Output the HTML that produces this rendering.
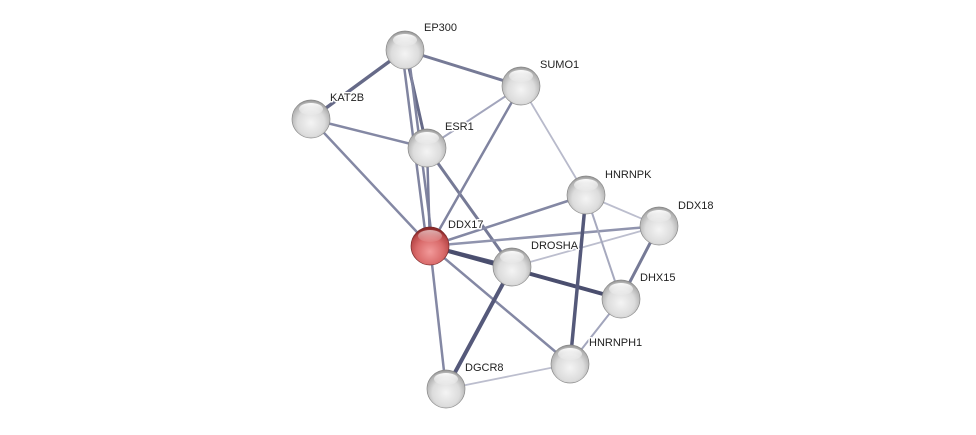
<!DOCTYPE html>
<html><head><meta charset="utf-8"><style>
html,body{margin:0;padding:0;background:#fff;}
svg{display:block;}
text{font-family:"Liberation Sans",Arial,sans-serif;font-size:11px;fill:#222;paint-order:stroke;stroke:#fff;stroke-width:3px;stroke-linejoin:round;}
</style></head><body>
<svg width="976" height="435" viewBox="0 0 976 435" xmlns="http://www.w3.org/2000/svg">
<defs>
<radialGradient id="g" cx="50%" cy="60%" r="60%">
<stop offset="0" stop-color="#f4f4f4"/><stop offset="0.6" stop-color="#dcdcdc"/><stop offset="0.9" stop-color="#b0b0b0"/><stop offset="1" stop-color="#8e8e8e"/>
</radialGradient>
<radialGradient id="r" cx="50%" cy="65%" r="60%">
<stop offset="0" stop-color="#f29a9a"/><stop offset="0.6" stop-color="#d96a6a"/><stop offset="0.9" stop-color="#b84848"/><stop offset="1" stop-color="#8c2a2a"/>
</radialGradient>
<linearGradient id="hl" x1="0" y1="0" x2="0" y2="1">
<stop offset="0" stop-color="#fff" stop-opacity="0.95"/><stop offset="1" stop-color="#fff" stop-opacity="0.1"/>
</linearGradient>
</defs>
<g stroke-linecap="round">
<line x1="405" y1="50" x2="311" y2="119" stroke="#666a88" stroke-width="3.5"/>
<line x1="405" y1="50" x2="521" y2="86" stroke="#767a96" stroke-width="3"/>
<line x1="405" y1="50" x2="427" y2="148" stroke="#666a88" stroke-width="3"/>
<line x1="402" y1="50" x2="427" y2="246" stroke="#8084a0" stroke-width="2.5"/>
<line x1="408" y1="50" x2="433" y2="246" stroke="#8084a0" stroke-width="2.5"/>
<line x1="311" y1="119" x2="427" y2="148" stroke="#8488a4" stroke-width="2.5"/>
<line x1="311" y1="119" x2="430" y2="246" stroke="#8488a4" stroke-width="2.5"/>
<line x1="427" y1="148" x2="521" y2="86" stroke="#a2a5bc" stroke-width="2"/>
<line x1="427" y1="148" x2="430" y2="246" stroke="#7a7e9c" stroke-width="2.5"/>
<line x1="427" y1="148" x2="512" y2="267" stroke="#767a96" stroke-width="3"/>
<line x1="521" y1="86" x2="430" y2="246" stroke="#8084a0" stroke-width="2.5"/>
<line x1="521" y1="86" x2="586" y2="195" stroke="#b8bacb" stroke-width="1.8"/>
<line x1="430" y1="246" x2="586" y2="195" stroke="#8488a4" stroke-width="2.5"/>
<line x1="430" y1="246" x2="659" y2="226" stroke="#9094ae" stroke-width="2.5"/>
<line x1="430" y1="246" x2="512" y2="267" stroke="#55597a" stroke-width="3.5"/>
<line x1="430" y1="246" x2="621" y2="299" stroke="#4a4e6e" stroke-width="4"/>
<line x1="430" y1="246" x2="570" y2="364" stroke="#8488a4" stroke-width="2.5"/>
<line x1="430" y1="246" x2="446" y2="389" stroke="#8488a4" stroke-width="2.5"/>
<line x1="512" y1="267" x2="659" y2="226" stroke="#bcbece" stroke-width="1.8"/>
<line x1="512" y1="267" x2="446" y2="389" stroke="#55597a" stroke-width="4"/>
<line x1="586" y1="195" x2="659" y2="226" stroke="#bcbece" stroke-width="1.8"/>
<line x1="586" y1="195" x2="621" y2="299" stroke="#a6a9be" stroke-width="2"/>
<line x1="586" y1="195" x2="570" y2="364" stroke="#55597a" stroke-width="3.5"/>
<line x1="659" y1="226" x2="621" y2="299" stroke="#767a96" stroke-width="3"/>
<line x1="621" y1="299" x2="570" y2="364" stroke="#a2a5bc" stroke-width="2"/>
<line x1="570" y1="364" x2="446" y2="389" stroke="#bcbece" stroke-width="1.8"/>
</g>
<g stroke="#8a8a8a" stroke-width="0.7">
<g id="n"></g>
<circle cx="405" cy="50" r="19" fill="url(#g)"/>
<circle cx="521" cy="86" r="19" fill="url(#g)"/>
<circle cx="311" cy="119" r="19" fill="url(#g)"/>
<circle cx="427" cy="148" r="19" fill="url(#g)"/>
<circle cx="586" cy="195" r="19" fill="url(#g)"/>
<circle cx="659" cy="226" r="19" fill="url(#g)"/>
<circle cx="512" cy="267" r="19" fill="url(#g)"/>
<circle cx="621" cy="299" r="19" fill="url(#g)"/>
<circle cx="570" cy="364" r="19" fill="url(#g)"/>
<circle cx="446" cy="389" r="19" fill="url(#g)"/>
<circle cx="430" cy="246" r="19" fill="url(#r)" stroke="#7a2a2a"/>
</g>
<g fill="url(#hl)">
<ellipse cx="405" cy="40" rx="12" ry="6"/>
<ellipse cx="521" cy="76" rx="12" ry="6"/>
<ellipse cx="311" cy="109" rx="12" ry="6"/>
<ellipse cx="427" cy="138" rx="12" ry="6"/>
<ellipse cx="586" cy="185" rx="12" ry="6"/>
<ellipse cx="659" cy="216" rx="12" ry="6"/>
<ellipse cx="512" cy="257" rx="12" ry="6"/>
<ellipse cx="621" cy="289" rx="12" ry="6"/>
<ellipse cx="570" cy="354" rx="12" ry="6"/>
<ellipse cx="446" cy="379" rx="12" ry="6"/>
<ellipse cx="430" cy="236" rx="12" ry="6" opacity="0.6"/>
</g>
<text x="424" y="31">EP300</text>
<text x="540" y="68">SUMO1</text>
<text x="330" y="101">KAT2B</text>
<text x="445" y="130">ESR1</text>
<text x="605" y="178">HNRNPK</text>
<text x="678" y="209">DDX18</text>
<text x="448" y="228">DDX17</text>
<text x="531" y="249">DROSHA</text>
<text x="640" y="281">DHX15</text>
<text x="589" y="346">HNRNPH1</text>
<text x="465" y="371">DGCR8</text>
</svg>
</body></html>
